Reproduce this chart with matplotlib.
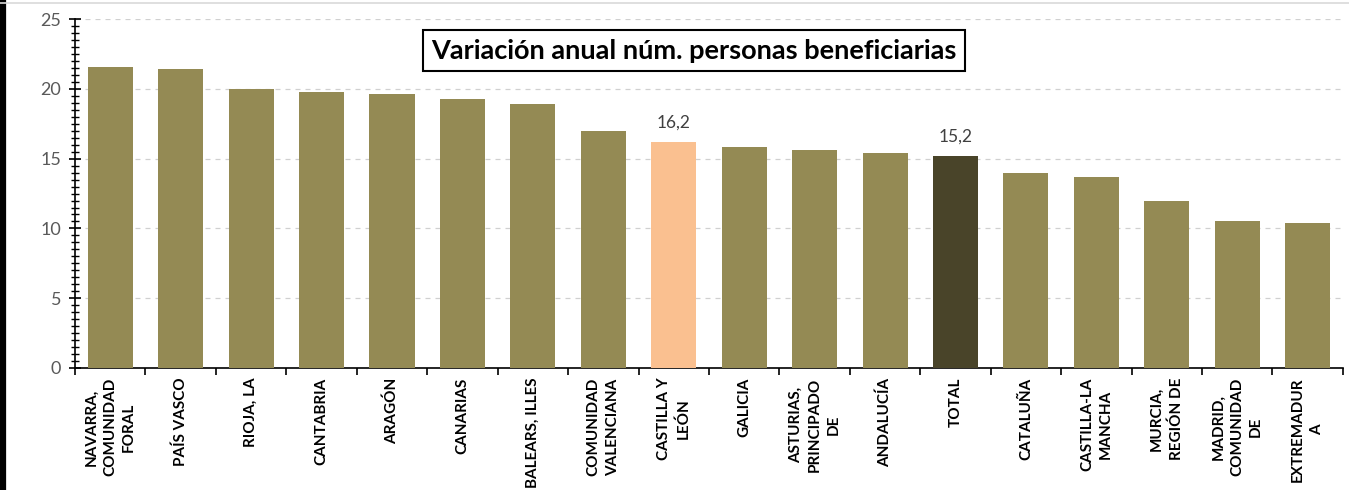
import numpy as np
import matplotlib.pyplot as plt
from matplotlib.ticker import MultipleLocator, FixedLocator
from matplotlib.lines import Line2D

# Data
regiones = ["NAVARRA,\nCOMUNIDAD\nFORAL", "PAÍS VASCO", "RIOJA, LA", "CANTABRIA",
            "ARAGÓN", "CANARIAS", "BALEARS, ILLES", "COMUNIDAD\nVALENCIANA",
            "CASTILLA Y\nLEÓN", "GALICIA", "ASTURIAS,\nPRINCIPADO\nDE", "ANDALUCÍA",
            "TOTAL", "CATALUÑA", "CASTILLA-LA\nMANCHA", "MURCIA,\nREGIÓN DE",
            "MADRID,\nCOMUNIDAD\nDE", "EXTREMADUR\nA"]
variacion = [21.6, 21.4, 20.0, 19.8, 19.6, 19.3, 18.9, 17.0, 16.2, 15.8,
             15.6, 15.4, 15.2, 14.0, 13.7, 12.0, 10.5, 10.4]
etiquetas = {"CASTILLA Y\nLEÓN": "16,2", "TOTAL": "15,2"}

plt.rcParams['font.family'] = ['Lato', 'DejaVu Sans']

olive = "#948A54"
peach = "#FAC090"
dark = "#494429"
colores = []
for r in regiones:
    if r == "TOTAL":
        colores.append(dark)
    elif r.startswith("CASTILLA Y"):
        colores.append(peach)
    else:
        colores.append(olive)

fig = plt.figure(figsize=(13.49, 4.9), dpi=100)
ax = fig.add_axes([0.0556, 0.249, 0.9399, 0.712])

x = np.arange(len(regiones))
ax.bar(x, variacion, width=0.64, color=colores, zorder=3)

for i, r in enumerate(regiones):
    if r in etiquetas:
        ax.text(x[i], variacion[i] + 0.8, etiquetas[r], ha="center", va="bottom",
                fontsize=12.5, color="#404040")

ax.set_xlim(-0.5, len(regiones) - 0.5)
ax.set_ylim(0, 25)
ax.yaxis.set_major_locator(MultipleLocator(5))
ax.yaxis.set_minor_locator(MultipleLocator(0.5))
ax.grid(axis="y", which="major", color="#D0D0D0", linestyle=(0, (4, 4)), linewidth=0.9, zorder=0)

ax.set_xticks(x)
ax.set_xticklabels(regiones, rotation=90, fontsize=11, fontweight="bold",
                   ha="center", va="top", multialignment="center", linespacing=1.45)
ax.xaxis.set_minor_locator(FixedLocator(np.arange(-0.5, len(regiones), 1.0)))
ax.tick_params(axis="x", which="major", length=0, pad=7)
ax.tick_params(axis="x", which="minor", length=5, width=1.2, direction="out", color="black")
ax.tick_params(axis="y", which="major", length=8, width=1.2, direction="inout",
               labelsize=13, labelcolor="#595959", pad=6)
ax.tick_params(axis="y", which="minor", length=6, width=1.0, direction="inout")

for s in ["top", "right"]:
    ax.spines[s].set_visible(False)
ax.spines["left"].set_linewidth(1.2)
ax.spines["bottom"].set_linewidth(1.2)

ax.text(0.488, 0.91, "Variación anual núm. personas beneficiarias", transform=ax.transAxes,
        ha="center", va="center", fontsize=19.5, fontweight="bold",
        bbox=dict(boxstyle="square,pad=0.3", facecolor="white", edgecolor="black", linewidth=1.5),
        zorder=5)

# outer frame
fig.add_artist(Line2D([0.0022, 0.0022], [0, 1], transform=fig.transFigure, color="black", linewidth=4.5))
fig.add_artist(Line2D([0, 1], [0.994, 0.994], transform=fig.transFigure, color="#D9D9D9", linewidth=1.2))

fig.savefig("out.png", dpi=100)
